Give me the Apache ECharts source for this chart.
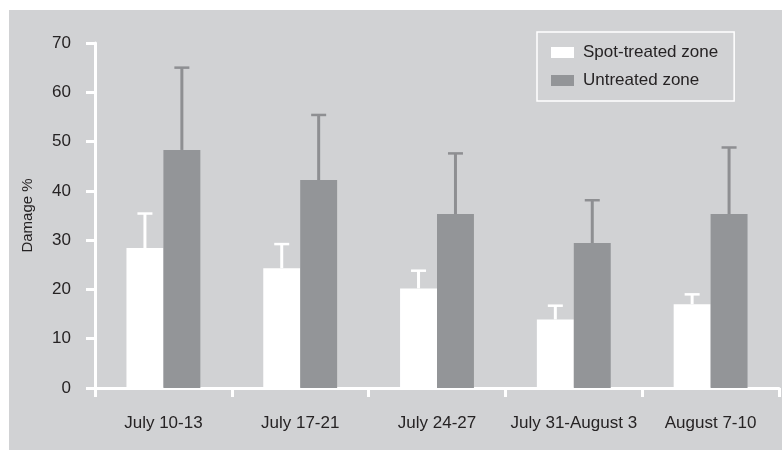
<!DOCTYPE html>
<html>
<head>
<meta charset="utf-8">
<script src="https://cdn.jsdelivr.net/npm/echarts@6/dist/echarts.min.js"></script>
<style>
html,body{margin:0;padding:0;background:#ffffff;}
#wrap{position:absolute;left:9px;top:10px;width:773px;height:440px;background:#d1d2d4;}
#chart{position:absolute;left:0;top:0;width:782px;height:453px;}
</style>
</head>
<body>
<div id="wrap"></div>
<div id="chart"></div>
<script>
const categories = ['July 10-13', 'July 17-21', 'July 24-27', 'July 31-August 3', 'August 7-10'];
const spotTreated = [28.4, 24.3, 20.2, 13.9, 17.0];
const spotTreatedErr = [35.4, 29.2, 23.8, 16.7, 19.0];
const untreated = [48.3, 42.2, 35.3, 29.4, 35.3];
const untreatedErr = [65.0, 55.4, 47.6, 38.1, 48.8];
const yTicks = [0, 10, 20, 30, 40, 50, 60, 70];

const FONT = '"Liberation Sans", Arial, Helvetica, sans-serif';
const TEXT = '#262324';
const GREY = '#939598';
const WHISKER_GREY = '#8e8f92';
const CAT_GAP = 0.46;

function errData(vals, tops) {
  return vals.map((v, i) => [i, v, tops[i]]);
}

function makeErrRender(side, color) {
  return function (params, api) {
    const i = api.value(0);
    const base = api.coord([i, api.value(1)]);
    const top = api.coord([i, api.value(2)]);
    const band = api.size([1, 0])[0];
    const barW = band * (1 - CAT_GAP) / 2;
    const x = base[0] + side * barW / 2;
    const capHalf = 7.5;
    return {
      type: 'group',
      children: [
        { type: 'line', shape: { x1: x, y1: base[1], x2: x, y2: top[1] }, style: { stroke: color, lineWidth: 3 } },
        { type: 'line', shape: { x1: x - capHalf, y1: top[1], x2: x + capHalf, y2: top[1] }, style: { stroke: color, lineWidth: 2.5 } }
      ]
    };
  };
}

const chart = echarts.init(document.getElementById('chart'), null, { renderer: 'canvas' });
chart.setOption({
  animation: false,
  backgroundColor: 'transparent',
  textStyle: { fontFamily: FONT },
  grid: { left: 95, right: 3, top: 43, bottom: 65, containLabel: false },
  legend: {
    orient: 'vertical',
    left: 537,
    top: 32,
    padding: [12, 16, 12, 14],
    itemWidth: 23,
    itemHeight: 11,
    itemGap: 11,
    borderColor: '#ffffff',
    borderWidth: 1.5,
    icon: 'rect',
    textStyle: { fontFamily: FONT, fontSize: 17, color: TEXT, padding: [0, 0, 0, 4] },
    data: ['Spot-treated zone', 'Untreated zone']
  },
  xAxis: {
    type: 'category',
    data: categories,
    axisLine: { lineStyle: { color: '#ffffff', width: 3 } },
    axisTick: { show: true, interval: 0, length: 9, lineStyle: { color: '#ffffff', width: 3 } },
    axisLabel: { interval: 0, fontFamily: FONT, fontSize: 17, color: TEXT, margin: 27 },
    splitLine: { show: false }
  },
  yAxis: {
    type: 'value',
    min: yTicks[0],
    max: yTicks[yTicks.length - 1],
    interval: 10,
    name: 'Damage %',
    nameLocation: 'middle',
    nameGap: 60,
    nameTextStyle: { fontFamily: FONT, fontSize: 15, color: TEXT },
    axisLine: { show: true, lineStyle: { color: '#ffffff', width: 3 } },
    axisTick: { show: true, length: 9, lineStyle: { color: '#ffffff', width: 3 } },
    axisLabel: { fontFamily: FONT, fontSize: 17, color: TEXT, margin: 24 },
    splitLine: { show: false }
  },
  series: [
    {
      name: 'Spot-treated zone',
      type: 'bar',
      data: spotTreated,
      barGap: '0%',
      barCategoryGap: (CAT_GAP * 100) + '%',
      itemStyle: { color: '#ffffff' },
      z: 2
    },
    {
      name: 'Untreated zone',
      type: 'bar',
      data: untreated,
      barGap: '0%',
      barCategoryGap: (CAT_GAP * 100) + '%',
      itemStyle: { color: GREY },
      z: 2
    },
    {
      type: 'custom',
      renderItem: makeErrRender(-1, '#ffffff'),
      data: errData(spotTreated, spotTreatedErr),
      encode: { x: 0, y: [1, 2] },
      z: 1,
      silent: true
    },
    {
      type: 'custom',
      renderItem: makeErrRender(1, WHISKER_GREY),
      data: errData(untreated, untreatedErr),
      encode: { x: 0, y: [1, 2] },
      z: 1,
      silent: true
    }
  ]
});
</script>
</body>
</html>
